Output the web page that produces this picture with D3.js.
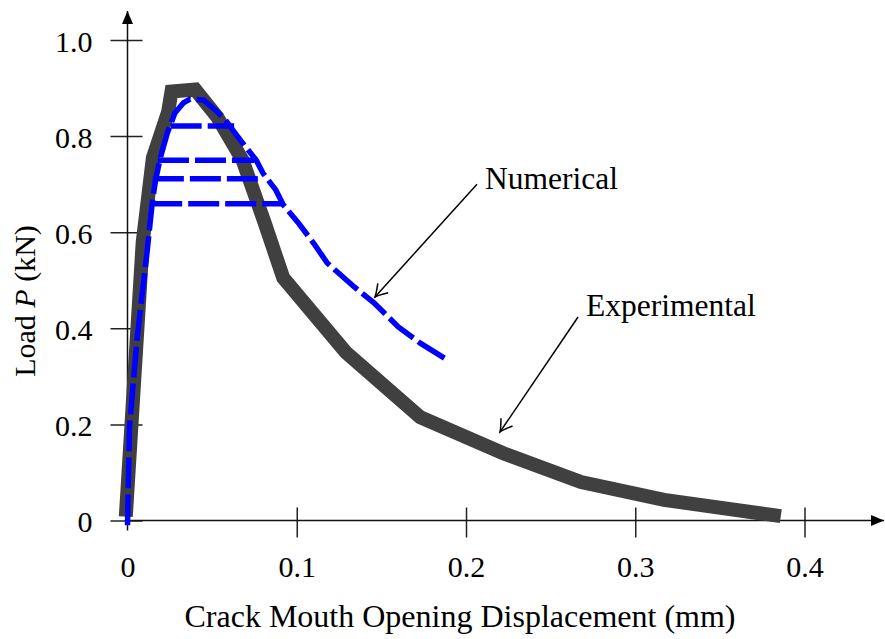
<!DOCTYPE html>
<meta charset="utf-8">
<head>
  <title>Load vs CMOD</title>
  <style>
    body { margin: 0; background: #fff; }
    svg { display: block; background: #fff; font-family: "Liberation Serif", "Times New Roman", serif; }
    .tick text { font-size: 30px; fill: #000; font-family: "Liberation Serif", serif; }
    .tick line { stroke: #222; stroke-width: 1.5; }
    .axisline { stroke: #111; stroke-width: 1.5; fill: none; }
    .label { font-size: 30px; fill: #000; }
    .xlabel { font-size: 32px; }
    .note { font-size: 31.5px; fill: #000; }
    .pointer { stroke: #000; stroke-width: 1.5; fill: none; }
  </style>
</head>
<body>
<script src="https://cdn.jsdelivr.net/npm/d3@7"></script>
<script>

// experimental curve (thick gray)
var expCmod = [-0.001, 0.009, 0.015, 0.024, 0.026, 0.040, 0.053, 0.068, 0.081, 0.092, 0.129, 0.173, 0.222, 0.268, 0.317, 0.386];
var expLoad = [0.008, 0.58, 0.755, 0.85, 0.893, 0.897, 0.84, 0.75, 0.62, 0.505, 0.35, 0.215, 0.14, 0.08, 0.043, 0.009];

// numerical curve (blue dashed)
var numCmod = [0, 0.0012, 0.0057, 0.0117, 0.0146, 0.0166, 0.0195, 0.0235, 0.028, 0.033, 0.037, 0.045, 0.052, 0.058,
               0.063, 0.069, 0.076, 0.080, 0.0876, 0.092, 0.1006, 0.110, 0.118, 0.134, 0.1456, 0.160, 0.173, 0.189];
var numLoad = [-0.01, 0.195, 0.38, 0.563, 0.661, 0.709, 0.756, 0.806, 0.848, 0.869, 0.877, 0.875, 0.854, 0.833,
               0.809, 0.781, 0.75, 0.723, 0.688, 0.657, 0.621, 0.577, 0.536, 0.486, 0.453, 0.403, 0.369, 0.334];

// horizontal load plateaus of the numerical run
var plateauLoad  = [0.821, 0.750, 0.711, 0.659];
var plateauStart = [0.0255, 0.018, 0.015, 0.014];
var plateauEnd   = [0.063, 0.075, 0.078, 0.092];

var xTicks = [0, 0.1, 0.2, 0.3, 0.4];
var xTickLabels = ["0", "0.1", "0.2", "0.3", "0.4"];
var yTicks = [0, 0.2, 0.4, 0.6, 0.8, 1.0];
var yTickLabels = ["0", "0.2", "0.4", "0.6", "0.8", "1.0"];

var W = 885, H = 639;

var x = d3.scaleLinear().domain([0, 0.4]).range([127.5, 804.5]);
var y = d3.scaleLinear().domain([0, 1]).range([520.5, 40]);

var svg = d3.select("body").append("svg")
    .attr("width", W)
    .attr("height", H);

var defs = svg.append("defs");
defs.append("marker")
    .attr("id", "axisArrow")
    .attr("markerUnits", "userSpaceOnUse")
    .attr("viewBox", "-13 -6 14 12")
    .attr("refX", 0).attr("refY", 0)
    .attr("markerWidth", 14).attr("markerHeight", 12)
    .attr("orient", "auto")
  .append("path")
    .attr("d", "M-13,-5.5 L0,0 L-13,5.5 Z")
    .attr("fill", "#000");
defs.append("marker")
    .attr("id", "noteArrow")
    .attr("markerUnits", "userSpaceOnUse")
    .attr("viewBox", "-14 -8 16 16")
    .attr("refX", 0).attr("refY", 0)
    .attr("markerWidth", 16).attr("markerHeight", 16)
    .attr("orient", "auto")
  .append("path")
    .attr("d", "M-12,-7 Q-3,-1 0,0 Q-3,1 -12,7")
    .attr("fill", "none")
    .attr("stroke", "#000")
    .attr("stroke-width", 1.5);

// axes
var xAxis = svg.append("g")
    .attr("transform", "translate(0," + y(0) + ")")
    .call(d3.axisBottom(x).tickValues(xTicks)
        .tickFormat(function(d, i) { return xTickLabels[i]; })
        .tickSize(15).tickPadding(0));
xAxis.select(".domain").remove();
xAxis.selectAll(".tick line").attr("y1", -13).attr("y2", 17);
xAxis.selectAll(".tick").filter(function(d) { return d === 0; }).select("line").remove();
xAxis.selectAll(".tick text").attr("dy", null).attr("y", 56.5);

var yAxis = svg.append("g")
    .attr("transform", "translate(" + x(0) + ",0)")
    .call(d3.axisLeft(y).tickValues(yTicks)
        .tickFormat(function(d, i) { return yTickLabels[i]; })
        .tickSize(15).tickPadding(0));
yAxis.select(".domain").remove();
yAxis.selectAll(".tick line").attr("x1", -17).attr("x2", 15);
yAxis.selectAll(".tick text").attr("dy", null).attr("x", -35).attr("y", 11);

svg.append("line").attr("class", "axisline")
    .attr("x1", x(0)).attr("x2", 884)
    .attr("y1", y(0)).attr("y2", y(0))
    .attr("marker-end", "url(#axisArrow)");
svg.append("line").attr("class", "axisline")
    .attr("x1", x(0)).attr("x2", x(0))
    .attr("y1", y(0) + 10).attr("y2", 11)
    .attr("marker-end", "url(#axisArrow)");

// axis titles
svg.append("text").attr("class", "label xlabel")
    .attr("x", 460).attr("y", 627)
    .attr("text-anchor", "middle")
    .text("Crack Mouth Opening Displacement (mm)");

var yt = svg.append("text").attr("class", "label")
    .attr("transform", "translate(35,301) rotate(-90)")
    .attr("text-anchor", "middle");
yt.append("tspan").text("Load ");
yt.append("tspan").attr("font-style", "italic").text("P");
yt.append("tspan").text(" (kN)");

// curves
var line = d3.line()
    .x(function(d) { return x(d[0]); })
    .y(function(d) { return y(d[1]); });

svg.append("path")
    .datum(d3.zip(expCmod, expLoad))
    .attr("d", line)
    .attr("fill", "none")
    .attr("stroke", "#404040")
    .attr("stroke-width", 14)
    .attr("stroke-linejoin", "miter")
    .attr("stroke-miterlimit", 10);

svg.append("path")
    .datum(d3.zip(numCmod, numLoad))
    .attr("d", line)
    .attr("fill", "none")
    .attr("stroke", "#0000ff")
    .attr("stroke-width", 5.5)
    .attr("stroke-dasharray", "31,6");

svg.selectAll(".plateau")
    .data(plateauLoad)
  .enter().append("path")
    .attr("class", "plateau")
    .attr("d", function(d, i) { return line([[plateauStart[i], d], [plateauEnd[i], d]]); })
    .attr("fill", "none")
    .attr("stroke", "#0000ff")
    .attr("stroke-width", 5.5)
    .attr("stroke-dasharray", "31,6");

// annotations
svg.append("text").attr("class", "note")
    .attr("x", x(0.2112)).attr("y", y(0.69))
    .text("Numerical");
svg.append("line").attr("class", "pointer")
    .attr("x1", x(0.2065)).attr("y1", y(0.6999))
    .attr("x2", x(0.1462)).attr("y2", y(0.4651))
    .attr("marker-end", "url(#noteArrow)");

svg.append("text").attr("class", "note")
    .attr("x", x(0.2709)).attr("y", y(0.4256))
    .text("Experimental");
svg.append("line").attr("class", "pointer")
    .attr("x1", x(0.2662)).attr("y1", y(0.4235))
    .attr("x2", x(0.2201)).attr("y2", y(0.1842))
    .attr("marker-end", "url(#noteArrow)");

</script>
</body>
